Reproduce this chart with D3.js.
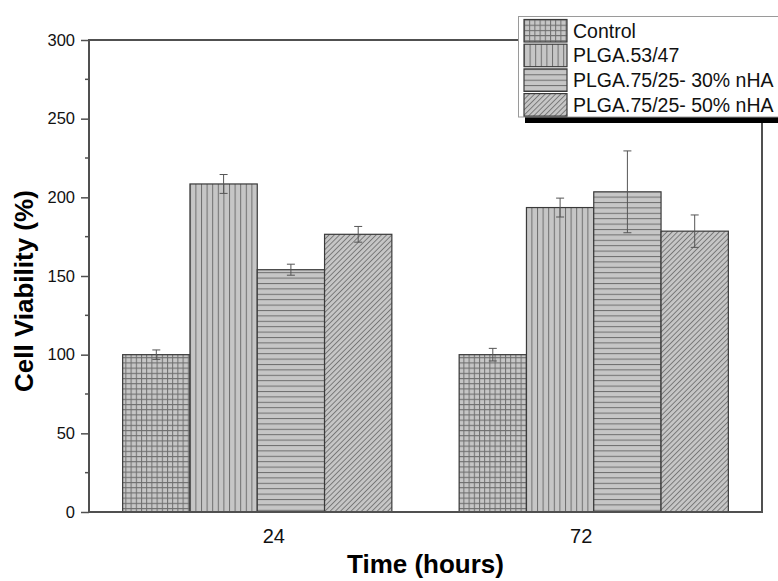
<!DOCTYPE html>
<html>
<head>
<meta charset="utf-8">
<script src="https://cdn.jsdelivr.net/npm/d3@7"></script>
<style>
  body { margin: 0; background: #fff; }
  svg { display: block; font-family: Arial, "Liberation Sans", sans-serif; }
</style>
</head>
<body>
<div id="chart"></div>
<script>
// values
var groups = ["24", "72"];
var seriesNames = ["Control", "PLGA.53/47", "PLGA.75/25- 30% nHA", "PLGA.75/25- 50% nHA"];
var means24 = [100, 208.5, 154, 176.5];
var errs24 = [3, 6, 3.5, 5];
var means72 = [100, 193.5, 203.5, 178.5];
var errs72 = [4, 6, 26, 10.3];
var yTicks = [0, 50, 100, 150, 200, 250, 300];

var width = 778, height = 581;
var margin = { top: 40, right: 16, bottom: 69, left: 89 };
var plotW = width - margin.left - margin.right;
var plotH = height - margin.top - margin.bottom;

// build rows from the arrays
var rows = [];
[means24, means72].forEach(function (m, gi) {
  var e = gi == 0 ? errs24 : errs72;
  m.forEach(function (v, si) {
    rows.push({ group: groups[gi], series: seriesNames[si], si: si, value: v, err: e[si] });
  });
});

var svg = d3.select("#chart").append("svg")
  .attr("width", width)
  .attr("height", height);

var defs = svg.append("defs");
var fillGrey = "#c6c6c6", lineGrey = "#6e6e6e";

function makePattern(id, w, h, draw, transform) {
  var p = defs.append("pattern")
    .attr("id", id)
    .attr("patternUnits", "userSpaceOnUse")
    .attr("width", w)
    .attr("height", h);
  if (transform) p.attr("patternTransform", transform);
  p.append("rect").attr("width", w).attr("height", h).attr("fill", fillGrey);
  draw(p);
}

// crosshatch
makePattern("pat0", 5.2, 5.2, function (p) {
  p.append("path").attr("d", "M0,0.5H5.2M0.5,0V5.2")
    .attr("stroke", lineGrey).attr("stroke-width", 1);
});
// vertical
makePattern("pat1", 5.6, 10, function (p) {
  p.append("path").attr("d", "M0.5,0V10")
    .attr("stroke", lineGrey).attr("stroke-width", 1);
});
// horizontal
makePattern("pat2", 10, 5.4, function (p) {
  p.append("path").attr("d", "M0,0.5H10")
    .attr("stroke", lineGrey).attr("stroke-width", 1);
});
// diagonal "/"
makePattern("pat3", 3.7, 10, function (p) {
  p.append("path").attr("d", "M0.5,0V10")
    .attr("stroke", lineGrey).attr("stroke-width", 0.9);
}, "rotate(45)");

var g = svg.append("g")
  .attr("transform", "translate(" + margin.left + "," + margin.top + ")");

var y = d3.scaleLinear().domain([0, 300]).range([plotH, 0]);

var x0 = d3.scaleBand().domain(groups).range([0, plotW])
  .paddingInner(0.2).paddingOuter(0.1);
var x1 = d3.scaleBand().domain(seriesNames).range([0, x0.bandwidth()]);

// the tick labels sit a bit off the group centres in the original
var xLab = d3.scalePoint().domain(groups).range([0, plotW]).padding(0.595);

// bars
var bar = g.append("g").selectAll("g")
  .data(rows)
  .enter()
  .append("g");

bar.append("rect")
  .attr("x", function (d) { return x0(d.group) + x1(d.series); })
  .attr("y", function (d) { return y(d.value); })
  .attr("width", x1.bandwidth())
  .attr("height", function (d) { return y(0) - y(d.value); })
  .attr("fill", function (d) { return "url(#pat" + d.si + ")"; })
  .attr("stroke", "#3a3a3a")
  .attr("stroke-width", 1.2);

// error bars
var cap = 4;
bar.append("path")
  .attr("d", function (d) {
    var cx = x0(d.group) + x1(d.series) + x1.bandwidth() / 2;
    var t = y(d.value + d.err), b = y(d.value - d.err);
    return "M" + (cx - cap) + "," + t + "H" + (cx + cap) +
      "M" + cx + "," + t + "V" + b +
      "M" + (cx - cap) + "," + b + "H" + (cx + cap);
  })
  .attr("fill", "none")
  .attr("stroke", "#555")
  .attr("stroke-width", 1);

// frame
var axisCol = "#505050";
g.append("rect")
  .attr("width", plotW)
  .attr("height", plotH)
  .attr("fill", "none")
  .attr("stroke", axisCol)
  .attr("stroke-width", 2);

// y axis
var yAxis = d3.axisLeft(y).tickValues(yTicks).tickSize(8).tickPadding(6);
var ya = g.append("g").call(yAxis);
ya.select(".domain").remove();
ya.selectAll(".tick line").attr("stroke", axisCol).attr("stroke-width", 1.5);
ya.selectAll(".tick text")
  .attr("font-size", 16.5)
  .attr("font-family", "Arial, 'Liberation Sans', sans-serif")
  .attr("fill", "#111");

// minor ticks
g.append("g").selectAll("line")
  .data(d3.range(25, 300, 50))
  .enter()
  .append("line")
  .attr("x1", -4).attr("x2", 1)
  .attr("y1", function (d) { return y(d); })
  .attr("y2", function (d) { return y(d); })
  .attr("stroke", axisCol)
  .attr("stroke-width", 1.5);

// x tick labels
g.append("g").selectAll("text")
  .data(groups)
  .enter()
  .append("text")
  .attr("x", function (d) { return xLab(d) + 2; })
  .attr("y", plotH + 31)
  .attr("text-anchor", "middle")
  .attr("font-size", 20)
  .attr("fill", "#111")
  .text(function (d) { return d; });

// axis titles
svg.append("text")
  .attr("x", margin.left + plotW / 2)
  .attr("y", 573)
  .attr("text-anchor", "middle")
  .attr("font-size", 26)
  .attr("font-weight", "bold")
  .attr("fill", "#000")
  .text("Time (hours)");

svg.append("text")
  .attr("transform", "translate(33,392) rotate(-90)")
  .attr("text-anchor", "start")
  .attr("font-size", 26)
  .attr("font-weight", "bold")
  .attr("fill", "#000")
  .text("Cell Viability (%)");

// legend
var leg = svg.append("g").attr("transform", "translate(518,16)");
var rowH = 24.7;

leg.append("rect")
  .attr("x", 7).attr("y", 101)
  .attr("width", 280).attr("height", 6)
  .attr("fill", "#000");

leg.append("rect")
  .attr("x", 0.5).attr("y", 0.5)
  .attr("width", 280).attr("height", 100.5)
  .attr("fill", "#fff")
  .attr("stroke", "#9a9a9a")
  .attr("stroke-width", 1);

var item = leg.selectAll(".item")
  .data(seriesNames)
  .enter()
  .append("g")
  .attr("class", "item")
  .attr("transform", function (d, i) { return "translate(6," + (3.5 + i * rowH) + ")"; });

item.append("rect")
  .attr("width", 43)
  .attr("height", 22.5)
  .attr("fill", function (d, i) { return "url(#pat" + i + ")"; })
  .attr("stroke", "#3a3a3a")
  .attr("stroke-width", 1.2);

item.append("text")
  .attr("x", 49)
  .attr("y", 18)
  .attr("font-size", 19.5)
  .attr("fill", "#111")
  .text(function (d) { return d; });
</script>
</body>
</html>
